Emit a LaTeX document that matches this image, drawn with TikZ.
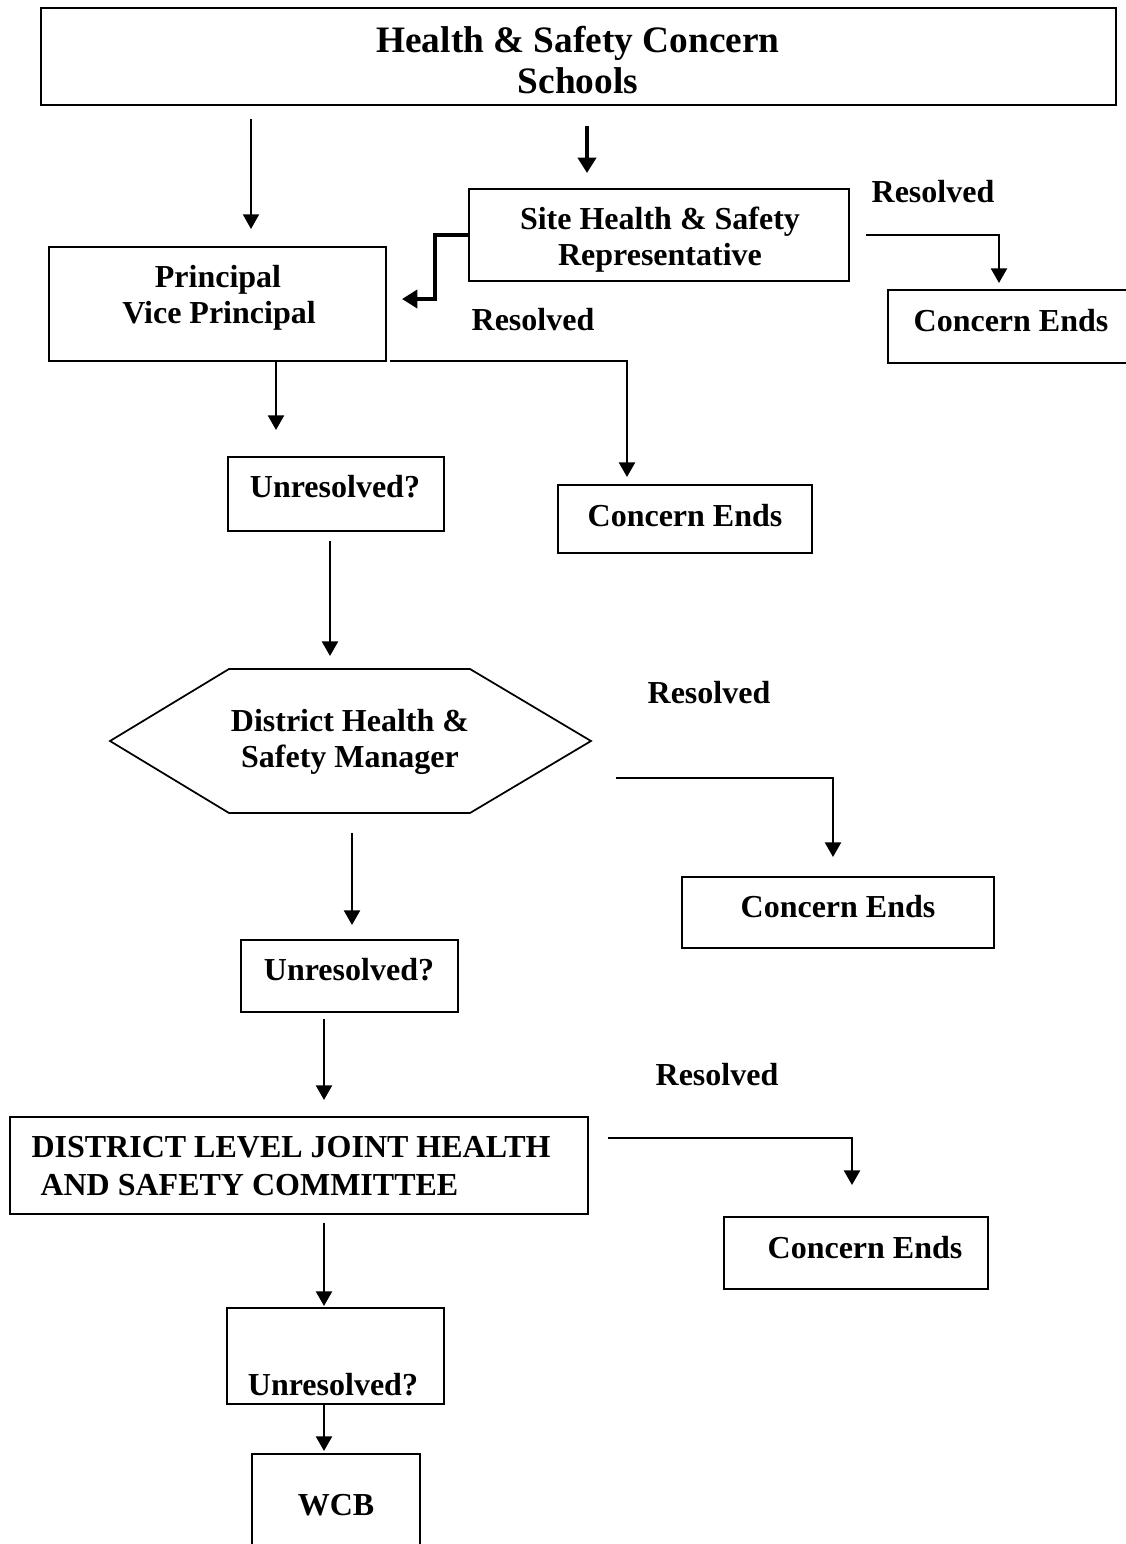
\documentclass[tikz,border=0pt]{standalone}
\usepackage{fontspec}
\setmainfont{Liberation Serif}
\usetikzlibrary{arrows.meta,fit}

\tikzset{
  box/.style={draw, line width=0.9pt, inner sep=0pt},
  txt/.style={font=\bfseries\fontsize{12}{14}\selectfont, anchor=base, inner sep=0pt},
  arr/.style={line width=0.9pt, -{Triangle[width=6pt,length=5.5pt]}},
  barr/.style={line width=1.7pt, -{Triangle[width=6.8pt,length=5.8pt]}},
}

\begin{document}
\begin{tikzpicture}[x=0.375pt,y=-0.375pt]
        \useasboundingbox (0,0) rectangle (1126,1544);
        \clip (0,0) rectangle (1126,1544);

        % boxes
        \node[box, fit={(41,8) (1116,105)}] (top) {};
        \node[box, fit={(469,189) (849,281)}] (site) {};
        \node[box, fit={(888,290) (1140,363)}] (ceA) {};
        \node[box, fit={(49,247) (386,361)}] (prin) {};
        \node[box, fit={(228,457) (444,531)}] (unA) {};
        \node[box, fit={(558,485) (812,553)}] (ceB) {};
        \node[box, fit={(241,940) (458,1012)}] (unB) {};
        \node[box, fit={(682,877) (994,948)}] (ceC) {};
        \node[box, fit={(10,1117) (588,1214)}] (jhsc) {};
        \node[box, fit={(724,1217) (988,1289)}] (ceD) {};
        \node[box, fit={(227,1308) (444,1404)}] (unC) {};
        \node[box, fit={(252,1454) (420,1560)}] (wcb) {};

        % hexagon for the district manager
        \coordinate (hl) at (110,741);
        \coordinate (htl) at (229,669);
        \coordinate (htr) at (470,669);
        \coordinate (hr) at (591,741);
        \coordinate (hbr) at (470,813);
        \coordinate (hbl) at (229,813);
        \draw[line width=0.65pt] (hl) -- (htl) -- (htr) -- (hr) -- (hbr) -- (hbl) -- cycle;

        % texts
        \node[txt, font=\bfseries\fontsize{14}{16}\selectfont] (ttlA) at (578,52) {Health \& Safety Concern};
        \node[txt, font=\bfseries\fontsize{14}{16}\selectfont] (ttlB) at (578,93) {Schools};
        \node[txt] (siteA) at (660,229) {Site Health \& Safety};
        \node[txt] (siteB) at (660,265) {Representative};
        \node[txt] (prinA) at (218,287) {Principal};
        \node[txt] (prinB) at (219,323) {Vice Principal};
        \node[txt] (resA) at (933,202) {Resolved};
        \node[txt] (ceAt) at (1011,331) {Concern Ends};
        \node[txt] (resB) at (533,330) {Resolved};
        \node[txt] (unAt) at (335,497) {Unresolved?};
        \node[txt] (ceBt) at (685,526) {Concern Ends};
        \node[txt] (dhsA) at (350,731) {District Health \&};
        \node[txt] (dhsB) at (350,767) {Safety Manager};
        \node[txt] (resC) at (709,703) {Resolved};
        \node[txt] (ceCt) at (838,917) {Concern Ends};
        \node[txt] (unBt) at (349,980) {Unresolved?};
        \node[txt, anchor=base west] (jhscA) at (31,1157) {DISTRICT LEVEL JOINT HEALTH};
        \node[txt, anchor=base west] (jhscB) at (40,1195) {AND SAFETY COMMITTEE};
        \node[txt] (resD) at (717,1085) {Resolved};
        \node[txt] (ceDt) at (865,1258) {Concern Ends};
        \node[txt] (unCt) at (333,1395) {Unresolved?};
        \node[txt] (wcbt) at (336,1515) {WCB};

        % arrow ends
        \coordinate (a1s) at (251,119);  \coordinate (a1e) at (251,229);
        \coordinate (a2s) at (587,126);  \coordinate (a2e) at (587,173);
        \coordinate (e1s) at (469,235);  \coordinate (e1m) at (435,299);  \coordinate (e1e) at (402,299);
        \coordinate (r1s) at (866,235);  \coordinate (r1e) at (999,283);
        \coordinate (a3s) at (276,361);  \coordinate (a3e) at (276,430);
        \coordinate (r2s) at (390,361);  \coordinate (r2e) at (627,477);
        \coordinate (a4s) at (330,541);  \coordinate (a4e) at (330,656);
        \coordinate (r3s) at (616,778);  \coordinate (r3e) at (833,857);
        \coordinate (a5s) at (352,833);  \coordinate (a5e) at (352,925);
        \coordinate (a6s) at (324,1019); \coordinate (a6e) at (324,1100);
        \coordinate (r4s) at (608,1138); \coordinate (r4e) at (852,1185);
        \coordinate (a7s) at (324,1223); \coordinate (a7e) at (324,1306);
        \coordinate (a8s) at (324,1404); \coordinate (a8e) at (324,1451);

        % arrows
        \draw[arr, line width=0.7pt] (a1s) -- (a1e);
        \draw[barr] (a2s) -- (a2e);
        \draw[barr] (e1s) -| (e1m) -- (e1e);
        \draw[arr] (r1s) -| (r1e);
        \draw[arr] (a3s) -- (a3e);
        \draw[arr] (r2s) -| (r2e);
        \draw[arr] (a4s) -- (a4e);
        \draw[arr] (r3s) -| (r3e);
        \draw[arr] (a5s) -- (a5e);
        \draw[arr] (a6s) -- (a6e);
        \draw[arr] (r4s) -| (r4e);
        \draw[arr] (a7s) -- (a7e);
        \draw[arr] (a8s) -- (a8e);

\end{tikzpicture}
\end{document}
